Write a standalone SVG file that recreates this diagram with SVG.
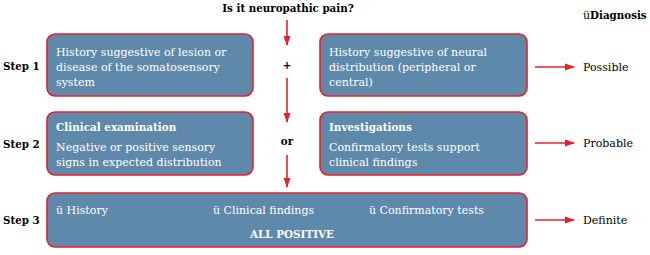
<svg xmlns="http://www.w3.org/2000/svg" width="650" height="255" viewBox="0 0 650 255">
<defs>
<marker id="ah" markerWidth="10" markerHeight="8" refX="9" refY="4" orient="auto" markerUnits="userSpaceOnUse">
<path d="M0,0.5 L10,4 L0,7.5 Z" fill="#e8202a"/>
</marker>
<style>
.box{fill:#5f89aa;stroke:#e8202a;stroke-width:1.6}
.t{font-family:"DejaVu Serif","Liberation Serif",serif;font-size:11px;fill:#fff}
.tb{font-family:"DejaVu Serif","Liberation Serif",serif;font-size:10.4px;fill:#fff;font-weight:bold}
.k{font-family:"DejaVu Serif","Liberation Serif",serif;font-size:11px;fill:#000}
.kb{font-family:"DejaVu Serif","Liberation Serif",serif;font-size:10.3px;fill:#000;font-weight:bold}
.c{stroke:#e8202a;stroke-width:1.6;fill:none}
</style>
</defs>
<rect width="650" height="255" fill="#fff"/>
<text class="kb" x="288" y="12" text-anchor="middle">Is it neuropathic pain?</text>
<text class="k" x="583" y="19">ü<tspan font-weight="bold" font-size="10.3px">Diagnosis</tspan></text>
<text class="kb" x="3" y="70">Step 1</text>
<text class="kb" x="3" y="148">Step 2</text>
<text class="kb" x="3" y="224">Step 3</text>
<g id="n1">
<rect class="box" x="47" y="34" width="206" height="62" rx="8"/>
<text class="t" x="56" y="56">History suggestive of lesion or</text>
<text class="t" x="56" y="71">disease of the somatosensory</text>
<text class="t" x="56" y="86">system</text>
</g>
<g id="n2">
<rect class="box" x="320" y="34" width="207" height="62" rx="8"/>
<text class="t" x="329" y="56">History suggestive of neural</text>
<text class="t" x="329" y="71">distribution (peripheral or</text>
<text class="t" x="329" y="86">central)</text>
</g>
<g id="n3">
<rect class="box" x="47" y="112" width="206" height="63" rx="8"/>
<text class="tb" x="56" y="131">Clinical examination</text>
<text class="t" x="56" y="151">Negative or positive sensory</text>
<text class="t" x="56" y="166">signs in expected distribution</text>
</g>
<g id="n4">
<rect class="box" x="320" y="112" width="207" height="63" rx="8"/>
<text class="tb" x="329" y="131">Investigations</text>
<text class="t" x="329" y="151">Confirmatory tests support</text>
<text class="t" x="329" y="166">clinical findings</text>
</g>
<g id="n5">
<rect class="box" x="47" y="193" width="480" height="54" rx="8"/>
<text class="t" x="56" y="214">ü History</text>
<text class="t" x="213" y="214">ü Clinical findings</text>
<text class="t" x="369" y="214">ü Confirmatory tests</text>
<text class="tb" x="292" y="238" text-anchor="middle">ALL POSITIVE</text>
</g>
<g id="labels">
<text class="kb" x="287" y="69" text-anchor="middle">+</text>
<text class="kb" x="287" y="145" text-anchor="middle">or</text>
<text class="k" x="583" y="71">Possible</text>
<text class="k" x="583" y="147">Probable</text>
<text class="k" x="583" y="224">Definite</text>
</g>
<g id="connectors">
<line class="c" x1="287" y1="20" x2="287" y2="45" marker-end="url(#ah)"/>
<line class="c" x1="287" y1="78" x2="287" y2="122" marker-end="url(#ah)"/>
<line class="c" x1="287" y1="155" x2="287" y2="187" marker-end="url(#ah)"/>
<line class="c" x1="535" y1="67" x2="574" y2="67" marker-end="url(#ah)"/>
<line class="c" x1="535" y1="143" x2="574" y2="143" marker-end="url(#ah)"/>
<line class="c" x1="535" y1="220" x2="574" y2="220" marker-end="url(#ah)"/>
</g>
</svg>
